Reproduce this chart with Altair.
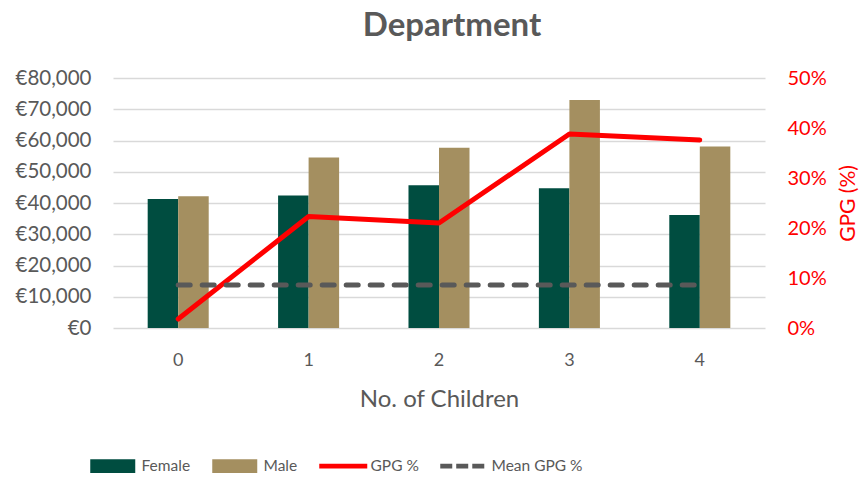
import altair as alt
import pandas as pd

# ---- data ----
children = ["0", "1", "2", "3", "4"]
female = [41300, 42400, 45700, 44700, 36200]
male = [42200, 54600, 57700, 73000, 58100]
gpg = [0.018, 0.223, 0.210, 0.388, 0.376]
mean_gpg = [0.086, 0.086, 0.086, 0.086, 0.086]
series = ["Female", "Male", "GPG %", "Mean GPG %"]
colors = ["#004D40", "#A48F60", "#FF0000", "#595959"]
salary_ticks = [0, 10000, 20000, 30000, 40000, 50000, 60000, 70000, 80000]
gpg_ticks = [0, 0.1, 0.2, 0.3, 0.4, 0.5]

bars_df = pd.DataFrame({
    "children": children * 2,
    "sex": ["Female"] * 5 + ["Male"] * 5,
    "salary": female + male,
})
line_df = pd.DataFrame({"children": children, "gpg": gpg, "mean": mean_gpg})
legend_df = pd.DataFrame({"series": series})

FONT = "Lato"
GREY = "#595959"
RED = "#FF0000"

# legend symbol paths (unit = sqrt(size)/2 = 7.5px)
legend_paths = [
    "M-1,-0.93H5V0.93H-1Z",
    "M-1,-0.93H5V0.93H-1Z",
    "M-1,-0.33H5.4V0.33H-1Z",
    "M-1,-0.33H0.6V0.33H-1Z M1.13,-0.33H2.73V0.33H1.13Z M3.27,-0.33H4.87V0.33H3.27Z",
]

x_enc = alt.X(
    "children:N",
    title="No. of Children",
    scale=alt.Scale(paddingInner=0.532, paddingOuter=0.266),
    axis=alt.Axis(
        labelAngle=0, domain=False, ticks=False, labelPadding=23, titlePadding=18,
        labelFontSize=18, titleFontSize=24, labelColor=GREY, titleColor=GREY,
        labelFont=FONT, titleFont=FONT, titleFontWeight="normal",
    ),
)

bars = alt.Chart(bars_df).mark_bar().encode(
    x=x_enc,
    xOffset=alt.XOffset("sex:N", scale=alt.Scale(paddingOuter=0, paddingInner=0)),
    y=alt.Y(
        "salary:Q",
        scale=alt.Scale(domain=[0, 80000], nice=False),
        axis=alt.Axis(
            values=salary_ticks, labelExpr="'€' + format(datum.value, ',')", title=None,
            grid=True, gridColor="#D9D9D9", gridWidth=1.3, domain=False, ticks=False,
            labelPadding=22, labelFontSize=20.5, labelColor=GREY, labelFont=FONT,
            minExtent=105, maxExtent=105,
        ),
    ),
    color=alt.Color("sex:N", scale=alt.Scale(domain=["Female", "Male"], range=colors[:2]), legend=None),
)

right_axis = alt.Axis(
    orient="right", values=gpg_ticks, format=".0%", title="GPG (%)", grid=False,
    domain=False, ticks=False, labelPadding=22, labelFontSize=20, labelColor=RED,
    labelFont=FONT, titleFont=FONT, titleFontSize=21, titleColor=RED,
    titleFontWeight="normal", titleAngle=270, titleBaseline="top", titlePadding=11,
)
right_scale = alt.Scale(domain=[0, 0.5], nice=False)

gpg_line = alt.Chart(line_df).mark_line(
    color=RED, strokeWidth=5, strokeCap="round", strokeJoin="round"
).encode(
    x=alt.X("children:N"),
    y=alt.Y("gpg:Q", scale=right_scale, axis=right_axis, title="GPG (%)"),
)
mean_line = alt.Chart(line_df).mark_line(
    color=GREY, strokeWidth=5, strokeDash=[12, 12], strokeCap="round"
).encode(
    x=alt.X("children:N"),
    y=alt.Y("mean:Q", scale=right_scale, axis=right_axis, title="GPG (%)"),
)

leg = alt.Legend(
    title=None, orient="none", legendX=-23, legendY=380, direction="horizontal",
    columns=4, symbolSize=225, symbolStrokeWidth=0, symbolOpacity=1, labelOffset=36,
    labelFontSize=15.5, labelFont=FONT, labelColor=GREY, columnPadding=21, padding=0,
)
legend_layer = alt.Chart(legend_df).mark_point(filled=True, opacity=0, strokeWidth=0).encode(
    fill=alt.Fill("series:N", scale=alt.Scale(domain=series, range=colors), legend=leg),
    shape=alt.Shape("series:N", scale=alt.Scale(domain=series, range=legend_paths), legend=leg),
)

chart = alt.layer(
    bars, alt.layer(gpg_line, mean_line), legend_layer
).resolve_scale(y="independent").properties(
    width=652, height=250, background="white",
    autosize=alt.AutoSizeParams(type="none"),
    padding={"left": 105, "right": 94, "top": 70, "bottom": 147},
    title=alt.TitleParams(
        "Department", font=FONT, fontSize=33, fontWeight="bold", color=GREY,
        anchor="middle", frame="group", offset=25, dx=13,
    ),
).configure_view(stroke=None)

chart.save("out.html", embed_options={"renderer": "svg", "actions": False})
